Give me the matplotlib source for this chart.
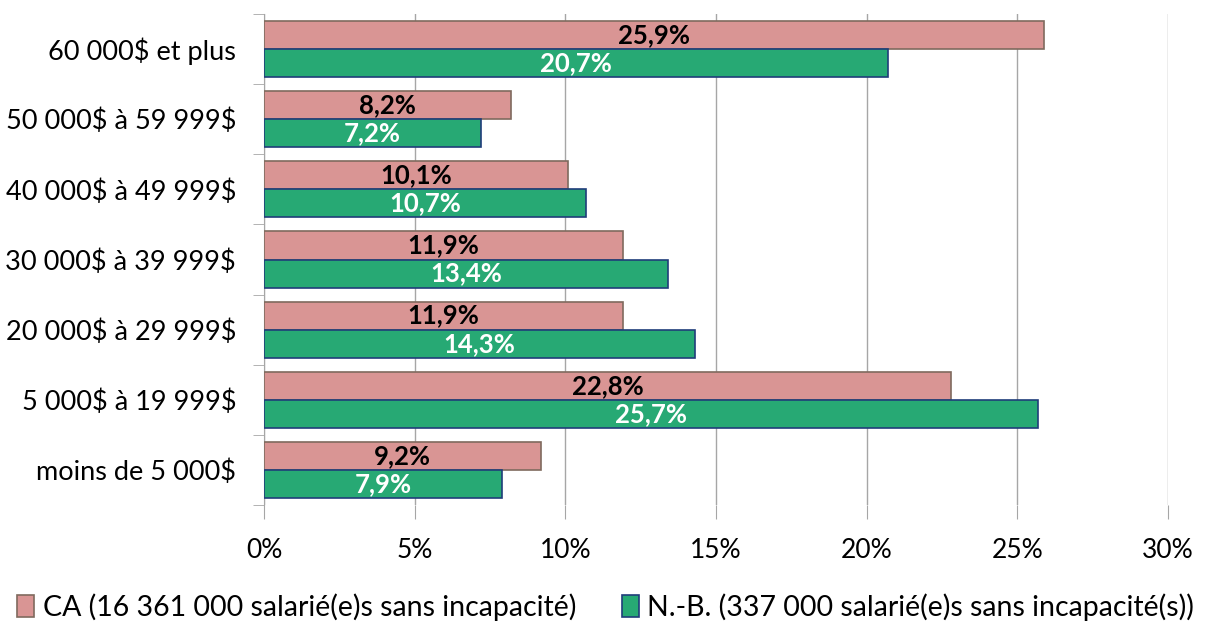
import numpy as np
import matplotlib.pyplot as plt

plt.rcParams['font.family'] = ['Lato', 'DejaVu Sans']

# categories, bottom to top
categories = ['moins de 5 000$', '5 000$ à 19 999$', '20 000$ à 29 999$',
              '30 000$ à 39 999$', '40 000$ à 49 999$', '50 000$ à 59 999$',
              '60 000$ et plus']
ca_values = [9.2, 22.8, 11.9, 11.9, 10.1, 8.2, 25.9]
nb_values = [7.9, 25.7, 14.3, 13.4, 10.7, 7.2, 20.7]
ca_label = 'CA (16 361 000 salarié(e)s sans incapacité)'
nb_label = 'N.-B. (337 000 salarié(e)s sans incapacité(s))'
xticks = [0, 5, 10, 15, 20, 25, 30]

pink = '#D99594'
green = '#27A974'
grid_col = '#A6A6A6'

fig = plt.figure(figsize=(12.11, 6.24), dpi=100)
ax = fig.add_axes([264 / 1211, 1 - 505 / 624, (1168 - 264) / 1211, (505 - 14) / 624])

y = np.arange(len(categories))
h = 0.40
ax.barh(y + h / 2, ca_values, height=h, color=pink, edgecolor='#7F6A5E',
        linewidth=1.2, label=ca_label, zorder=3)
ax.barh(y - h / 2, nb_values, height=h, color=green, edgecolor='#1F3D7A',
        linewidth=1.2, label=nb_label, zorder=3)

def fmt(v):
    return f'{v:.1f}%'.replace('.', ',')

for yi, v in zip(y, ca_values):
    ax.text(v / 2, yi + h / 2, fmt(v), ha='center', va='center',
            fontsize=18.5, fontweight='bold', color='black', zorder=4)
for yi, v in zip(y, nb_values):
    ax.text(v / 2, yi - h / 2, fmt(v), ha='center', va='center',
            fontsize=18.5, fontweight='bold', color='white', zorder=4)

ax.set_xlim(0, 30)
ax.set_ylim(-0.5, len(categories) - 0.5)
ax.set_xticks(xticks)
ax.set_xticklabels([f'{t}%' for t in xticks], fontsize=19)
ax.set_yticks(y)
ax.set_yticklabels([c.replace('$', r'\$') for c in categories], fontsize=19.5)
ax.set_yticks(np.arange(-0.5, len(categories)), minor=True)

ax.xaxis.grid(True, color=grid_col, linewidth=1, zorder=0)
ax.tick_params(axis='x', length=10, color=grid_col, pad=14)
ax.tick_params(axis='y', which='major', length=0, pad=20)
ax.tick_params(axis='y', which='minor', length=8, color=grid_col)

for s in ['top', 'right', 'bottom']:
    ax.spines[s].set_visible(False)
ax.spines['left'].set_color(grid_col)

handles, labels = ax.get_legend_handles_labels()
fig.legend(handles, labels, loc='center', bbox_to_anchor=(0.5, 1 - 607 / 624),
           ncol=2, frameon=False, fontsize=20.5, handlelength=0.6,
           handleheight=0.8, handletextpad=0.3, columnspacing=1.6,
           borderpad=0)

fig.savefig('out.png', dpi=100)
